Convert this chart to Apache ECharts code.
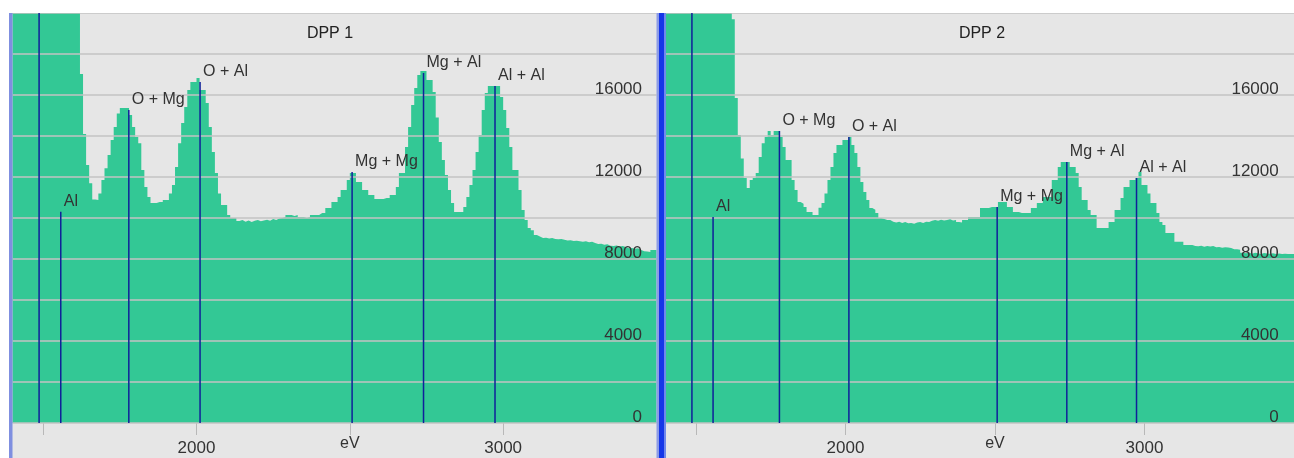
<!DOCTYPE html>
<html><head><meta charset="utf-8">
<script src="https://cdn.jsdelivr.net/npm/echarts@6/dist/echarts.min.js"></script>
<style>html,body{margin:0;padding:0;background:#fff}#c{width:1294px;height:458px}</style>
</head><body><div id="c"></div>
<script>
// ---- data ----
const binStart = 1400;      // eV of first channel
const binWidth = 10;        // eV per channel
const panelTitles = ['DPP 1', 'DPP 2'];

const dpp1Counts = [
  30000, 34000, 40000, 48000, 58000, 70000, 82000, 92000, 98000, 96000,
  88000, 76000, 64000, 54000, 46000, 40000, 35000, 31000, 28000, 25000,
  23000, 21000, 17020, 14100, 12590, 11700, 10900, 10880, 11200, 11850,
  12430, 13070, 13800, 14440, 15100, 15360, 15360, 15360, 15020, 14440,
  13950, 13650, 12340, 11510, 11020, 10730, 10730, 10780, 10780, 10880,
  10880, 11200, 11610, 12490, 13650, 14630, 15420, 16240, 16630, 16630,
  16830, 16240, 16240, 15610, 14440, 13220, 12190, 11200, 10630, 10630,
  10150, 10000, 10000, 9850, 9900, 9820, 9880, 9800, 9860, 9900,
  9840, 9880, 9920, 9860, 9950, 9900, 9980, 10000, 10050, 10150,
  10150, 10100, 10150, 10050, 10050, 10000, 10050, 10150, 10150, 10150,
  10240, 10240, 10490, 10490, 10780, 10780, 11020, 11370, 11370, 11850,
  12190, 12190, 11760, 11760, 11370, 11370, 11120, 11120, 10930, 10930,
  10930, 10980, 10980, 11120, 11120, 11510, 12190, 12190, 13460, 14440,
  15510, 16340, 16980, 17170, 17170, 16730, 16730, 16150, 14900, 13710,
  12830, 12100, 11370, 10730, 10290, 10290, 10290, 10540, 11020, 11610,
  12340, 13220, 14050, 15270, 16100, 16440, 16440, 16440, 16440, 15900,
  15270, 14390, 13460, 12340, 12340, 11370, 10390, 9900, 9510, 9400,
  9170, 9100, 9020, 9040, 9000, 9020, 8980, 8960, 8970, 8940,
  8900, 8920, 8880, 8890, 8860, 8840, 8860, 8820, 8840, 8780,
  8730, 8750, 8700, 8720, 8650, 8630, 8660, 8610, 8630, 8580,
  8520, 8540, 8500, 8520, 8440, 8380, 8360, 8340, 8440, 8440
];

const dpp2Counts = [
  32000, 38000, 46000, 56000, 68000, 80000, 90000, 96000, 97000, 92000,
  84000, 74000, 64000, 55000, 47000, 41000, 36000, 32000, 28000, 25000,
  22500, 20500, 19700, 15850, 14050, 12900, 11950, 11460, 11850, 11950,
  12190, 12980, 13650, 13950, 14240, 14050, 14240, 14240, 13950, 13460,
  12830, 12830, 11850, 11370, 10780, 10700, 10540, 10290, 10290, 10150,
  10150, 10500, 10730, 11200, 11850, 12490, 13170, 13560, 13560, 13800,
  13800, 13950, 13560, 13170, 12490, 11760, 11270, 10880, 10490, 10400,
  10240, 10000, 9950, 9900, 9900, 9820, 9780, 9820, 9760, 9800,
  9740, 9760, 9720, 9780, 9800, 9760, 9820, 9800, 9860, 9900,
  9860, 9920, 9880, 9900, 9940, 9880, 9900, 9800, 9780, 9900,
  9900, 10050, 10050, 10050, 10050, 10490, 10490, 10490, 10540, 10540,
  10540, 10780, 10780, 10780, 10540, 10540, 10290, 10290, 10240, 10240,
  10240, 10240, 10490, 10490, 10730, 10730, 11020, 11020, 11020, 11850,
  11850, 12490, 12730, 12730, 12730, 12490, 12490, 12190, 11510, 10880,
  10880, 10390, 10150, 10150, 9510, 9510, 9510, 9510, 9800, 9800,
  10390, 10390, 10980, 11510, 11510, 11850, 11850, 11950, 12240, 11610,
  11610, 11200, 10730, 10730, 10240, 9800, 9660, 9270, 9270, 9270,
  8840, 8840, 8840, 8680, 8680, 8680, 8640, 8620, 8650, 8600,
  8630, 8610, 8640, 8570, 8590, 8550, 8570, 8560, 8540, 8470,
  8480, 8450, 8300, 8280, 8320, 8260, 8300, 8280, 8250, 8290,
  8270, 8260, 8280, 8250, 8270, 8240, 8260, 8250, 8240, 8250
];

const markerEnergies    = [1486.7, 1557.4, 1779.3, 2011.6, 2507.4, 2740.3, 2973.4];
const markerLabels      = ['', 'Al', 'O + Mg', 'O + Al', 'Mg + Mg', 'Mg + Al', 'Al + Al'];
const dpp1MarkerHeights = [20000, 10300, 15270, 16630, 12240, 17070, 16440];
const dpp2MarkerHeights = [20000, 10050, 14240, 13950, 10540, 12730, 11950];

const xMin = 1400, xMax = 3500;
const yMax = 20000, yStep = 2000;
const yLabelValues = [0, 4000, 8000, 12000, 16000];
const xTickValues  = [1500, 2000, 2500, 3000];
const xLabelValues = [2000, 3000];
const xUnitValue = 2500, xUnitText = 'eV';

// ---- styles ----
const FONT = '"Liberation Sans", Arial, sans-serif';
const GREEN = '#33c895', NAVY = '#10209a', GRIDC = '#c3c3c3', TXT = '#333333';

function steps(counts) {
  const d = counts.map((v, i) => [binStart + i * binWidth, v]);
  d.push([binStart + counts.length * binWidth, counts[counts.length - 1]]);
  return d;
}
function markerData(h) { return markerEnergies.map((e, i) => [e, h[i], i]); }
function markerRender(params, api) {
  const e = api.value(0), h = api.value(1), idx = api.value(2);
  const p0 = api.coord([e, 0]), p1 = api.coord([e, h]);
  const ch = [{ type: 'line', shape: { x1: p0[0], y1: p0[1], x2: p1[0], y2: p1[1] },
                style: { stroke: NAVY, lineWidth: 1.5 } }];
  const t = markerLabels[idx];
  if (t) ch.push({ type: 'text', x: p1[0] + 3, y: p1[1] - 2,
    style: { text: t, font: '16px ' + FONT, fill: TXT, align: 'left', verticalAlign: 'bottom',
             textAlign: 'left', textVerticalAlign: 'bottom' } });
  return { type: 'group', children: ch };
}
const plain = v => String(v);

const grids = [
  { left: 12.5, top: 13, width: 644, height: 410 },
  { left: 666, top: 13, width: 636.3, height: 410 }
];
const yMargins = [14.5, 15.3];

const xAxes = [], yAxes = [], series = [];
[dpp1Counts, dpp2Counts].forEach((counts, g) => {
  xAxes.push({
    type: 'value', gridIndex: g, min: xMin, max: xMax, position: 'bottom',
    axisLine: { show: false }, splitLine: { show: false },
    axisTick: { show: true, customValues: xTickValues, length: 12, lineStyle: { color: '#b8b8b8', width: 1 } },
    axisLabel: { customValues: xLabelValues, formatter: plain, margin: 17, fontSize: 17, lineHeight: 17,
                 color: TXT, fontFamily: FONT }
  });
  xAxes.push({
    type: 'value', gridIndex: g, min: xMin, max: xMax, position: 'bottom',
    axisLine: { show: false }, splitLine: { show: false }, axisTick: { show: false },
    axisLabel: { customValues: [xUnitValue], formatter: () => xUnitText, margin: 12.5,
                 fontSize: 16, lineHeight: 16, color: TXT, fontFamily: FONT }
  });
  yAxes.push({
    type: 'value', gridIndex: g, min: 0, max: yMax, interval: yStep, position: 'right', z: 3,
    axisLine: { show: false }, axisTick: { show: false },
    splitLine: { show: true, lineStyle: { color: GRIDC, width: 1.5 } },
    axisLabel: { customValues: yLabelValues, formatter: plain, inside: true, margin: yMargins[g],
                 verticalAlign: 'bottom', lineHeight: 12, fontSize: 17, color: TXT, fontFamily: FONT }
  });
  series.push({
    type: 'line', xAxisIndex: g * 2, yAxisIndex: g, data: steps(counts), step: 'end',
    symbol: 'none', showSymbol: false, lineStyle: { width: 0 }, areaStyle: { color: GREEN, opacity: 1 },
    z: 2, silent: true
  });
  series.push({
    type: 'custom', xAxisIndex: g * 2, yAxisIndex: g, z: 5, silent: true,
    data: markerData(g === 0 ? dpp1MarkerHeights : dpp2MarkerHeights),
    encode: { x: 0, y: 1 }, renderItem: markerRender
  });
});

const titleCenters = [330, 982];
const graphic = [
  { type: 'rect', z: 100, shape: { x: 0, y: 0, width: 1294, height: 13 }, style: { fill: '#ffffff' } },
  { type: 'rect', z: 100, shape: { x: 0, y: 0, width: 9, height: 458 }, style: { fill: '#ffffff' } },
  { type: 'rect', z: 100, shape: { x: 9, y: 13, width: 3.5, height: 445 }, style: { fill: '#7f8fe0' } },
  { type: 'rect', z: 100, shape: { x: 656.5, y: 13, width: 2.5, height: 445 }, style: { fill: '#8c9be6' } },
  { type: 'rect', z: 100, shape: { x: 659, y: 13, width: 5, height: 445 }, style: { fill: '#1536e8' } },
  { type: 'rect', z: 100, shape: { x: 664, y: 13, width: 2, height: 445 }, style: { fill: '#7088ec' } }
];
panelTitles.forEach((t, i) => graphic.push({
  type: 'text', z: 100, x: titleCenters[i], y: 33.5,
  style: { text: t, font: '16px ' + FONT, fill: '#222', align: 'center', verticalAlign: 'middle',
           textAlign: 'center', textVerticalAlign: 'middle' }
}));

const chart = echarts.init(document.getElementById('c'), null, { renderer: 'canvas' });
chart.setOption({
  animation: false,
  backgroundColor: '#e6e6e6',
  grid: grids, xAxis: xAxes, yAxis: yAxes, series: series, graphic: graphic
});
</script></body></html>
